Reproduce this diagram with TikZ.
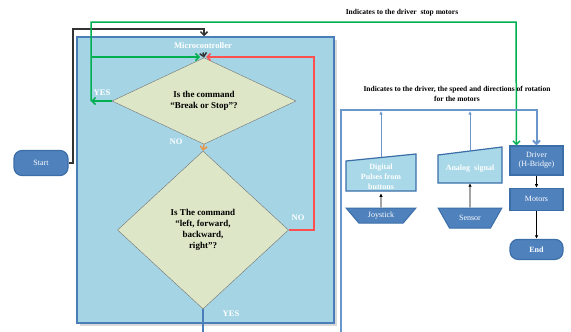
\documentclass[tikz,border=0pt]{standalone}
\usepackage{fontspec}
\setmainfont{Liberation Serif}
\usetikzlibrary{shapes.geometric, arrows.meta, positioning}

\definecolor{mcfill}{HTML}{A5D5E5}
\definecolor{mcline}{HTML}{4A7EBB}
\definecolor{decfill}{HTML}{DDE6C6}
\definecolor{boxblue}{HTML}{4F81BD}
\definecolor{boxline}{HTML}{3C6EA8}
\definecolor{lightin}{HTML}{A9D8E8}
\definecolor{frameblue}{HTML}{6A96CC}
\definecolor{gooo}{HTML}{00B050}
\definecolor{stopred}{HTML}{FF5050}
\definecolor{noorange}{HTML}{E8954A}

\begin{document}
\begin{tikzpicture}[x=1pt,y=-1pt,font=\fontsize{8}{9}\selectfont,
  decision/.style={diamond, draw=black!55, fill=decfill, inner sep=0pt, align=center,
    font=\bfseries\fontsize{9}{11}\selectfont},
  darkbox/.style={draw=boxline, line width=1.2pt, fill=boxblue, text=white,
    minimum width=53pt, align=center},
  term/.style={darkbox, rounded corners=8pt},
  inbox/.style={trapezium, trapezium stretches=true, shape border rotate=180,
    draw=boxline, line width=1pt, fill=boxblue, text=white},
  lbl/.style={text=white, font=\bfseries\fontsize{8.5}{10}\selectfont},
  note/.style={align=center, font=\bfseries\fontsize{7.5}{9.5}\selectfont},
  flow/.style={-{Straight Barb[length=3.5pt,width=7pt]}, line width=1.5pt},
  tip/.style={-{Latex[length=3.5pt,width=3.5pt]}, line width=0.8pt}]
\useasboundingbox (0,0) rectangle (571,332);

% microcontroller frame
\fill[black!15] (80,40) rectangle (337,326);
\node (mc) [draw=mcline, fill=mcfill, line width=1.5pt, minimum width=257pt,
  minimum height=286pt, inner sep=0pt] at (205.5,180) {};
\node (mclabel) [lbl] at (203,46) {Microcontroller};

% decisions
\node (brk) [decision, minimum width=184pt, minimum height=62pt] at (204,101)
  {Is the command\\``Break or Stop''?};
\node (dir) [decision, minimum width=171pt, minimum height=158pt] at (203,230)
  {Is The command\\``left, forward,\\backward,\\right''?};

\node (start) [term, minimum width=54pt, minimum height=25pt] at (41,163) {Start};

\coordinate (merge) at (203,57);
\coordinate (gl) at (91,101);
\coordinate (gmid) at (91,57);
\coordinate (gtop) at (516,22);
\coordinate (out) at (203,334);

% right side
\node (driver) [darkbox, minimum height=29pt] at (536.5,160.5) {Driver\\(H-Bridge)};
\node (motors) [darkbox, minimum height=22pt, below=12pt of driver] {Motors};
\node (end) [term, minimum height=20pt, below=28pt of motors, font=\bfseries\fontsize{8}{9}\selectfont] {End};

\fill[lightin, draw=boxline, line width=1.2pt] (346,161) -- (416,154) -- (416,191) -- (346,191) -- cycle;
\node (digital) [lbl, align=center, minimum width=70pt, minimum height=30pt,
  font=\bfseries\fontsize{8}{10}\selectfont] at (381,177) {Digital\\Pulses from\\buttons};
\fill[lightin, draw=boxline, line width=1.2pt] (438,155) -- (502,147) -- (502,183) -- (438,183) -- cycle;
\node (analog) [lbl, minimum width=64pt, minimum height=28pt,
  font=\bfseries\fontsize{8}{9}\selectfont] at (470,169) {Analog\ \ signal};

\node (joy) [inbox, minimum width=70pt, minimum height=15pt, trapezium angle=56] at (381,215.5) {Joystick};
\node (sensor) [inbox, minimum width=64pt, minimum height=20pt, trapezium angle=57] at (470,218) {Sensor};

% connectors
\draw[flow, black!80] (start.east) -| (73,29) -| (brk.north |- mc.north);
\draw[flow, black!80] (mclabel.south) -- (brk.north);
\draw[flow, gooo] (brk.west) -- (gl);
\draw[flow, gooo] (gl) |- (gtop) -- ([xshift=-20pt]driver.north);
\draw[flow, gooo] (gmid) -- ([xshift=-3pt]merge);
\draw[flow, stopred] (dir.east) -| (314,57) -- ([xshift=3pt]merge);
\draw[flow, noorange] (brk.south) -- (dir.north);
\draw[line width=1.5pt, mcline] (dir.south) -- (out);
\draw[flow, frameblue, line width=2pt] (341,334) |- (536.5,110) -- (driver.north);
\draw[tip, frameblue] ([yshift=3.5pt]digital.north) -- (381,111);
\draw[tip, frameblue] ([yshift=4pt]analog.north) -- (470,111);
\draw[tip] (joy.north) -- (digital.south);
\draw[tip] (sensor.north) -- (analog.south);
\draw[tip] (driver) -- (motors);
\draw[tip] (motors) -- (end);

% labels
\node[lbl] at (102,93) {YES};
\node[lbl] at (176,142) {NO};
\node[lbl] at (298,218) {NO};
\node[lbl] at (231,314) {YES};
\node[note] at (402,13) {Indicates\ to\ the\ driver\ \ stop\ motors};
\node[note] at (457,94) {Indicates\ to\ the\ driver,\ the\ speed\ and\ directions\ of\ rotation\\for\ the\ motors};
\end{tikzpicture}
\end{document}
